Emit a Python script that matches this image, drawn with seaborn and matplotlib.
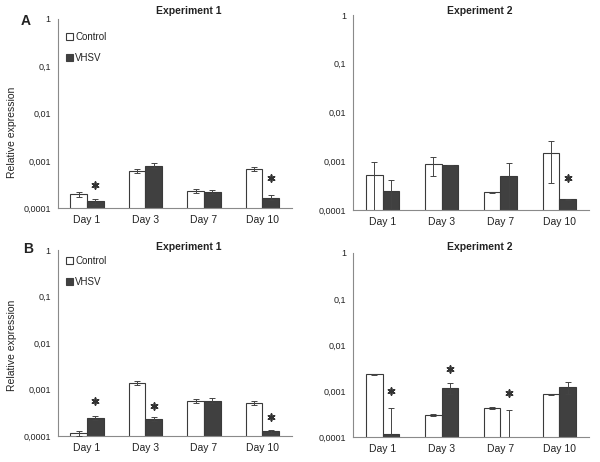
import numpy as np
import pandas as pd
import matplotlib
matplotlib.use("Agg")
import matplotlib.pyplot as plt
import seaborn as sns
from matplotlib.patches import Patch
from matplotlib.ticker import FixedLocator, NullFormatter

sns.set_style("white")
plt.rcParams['font.family'] = ['Liberation Sans', 'DejaVu Sans']

days = ["Day 1", "Day 3", "Day 7", "Day 10"]
groups = ["Control", "VHSV"]

# Panel A, Experiment 1
a1_control = [1.97e-4, 6.08e-4, 2.34e-4, 6.92e-4]
a1_control_err = [0.20e-4, 0.62e-4, 0.24e-4, 0.68e-4]
a1_vhsv = [1.40e-4, 8.0e-4, 2.2e-4, 1.67e-4]
a1_vhsv_err = [0.17e-4, 0.9e-4, 0.22e-4, 0.20e-4]
a1_stars = [(0, 3.1e-4), (3, 4.3e-4)]

# Panel A, Experiment 2
a2_control = [5.18e-4, 8.8e-4, 2.33e-4, 1.5e-3]
a2_control_err = [4.5e-4, 3.7e-4, 0.05e-4, 1.14e-3]
a2_vhsv = [2.48e-4, 8.2e-4, 4.94e-4, 1.65e-4]
a2_vhsv_err = [1.55e-4, 0.0, 4.2e-4, 0.03e-4]
a2_stars = [(3, 4.5e-4)]

# Panel B, Experiment 1
b1_control = [1.16e-4, 1.39e-3, 5.77e-4, 5.3e-4]
b1_control_err = [0.12e-4, 0.14e-3, 0.68e-4, 0.55e-4]
b1_vhsv = [2.52e-4, 2.32e-4, 5.85e-4, 1.28e-4]
b1_vhsv_err = [0.26e-4, 0.24e-4, 0.68e-4, 0.08e-4]
b1_stars = [(0, 5.85e-4), (1, 4.37e-4), (3, 2.56e-4)]

# Panel B, Experiment 2
b2_control = [2.33e-3, 3.03e-4, 4.3e-4, 8.5e-4]
b2_control_err = [0.07e-3, 0.1e-4, 0.15e-4, 0.3e-4]
b2_vhsv = [1.2e-4, 1.18e-3, 0.5e-4, 1.22e-3]
b2_vhsv_err = [3.2e-4, 0.33e-3, 3.33e-4, 0.34e-3]
b2_stars = [(0, 1.0e-3), (1, 2.99e-3), (2, 9.06e-4)]

yticks = [1e-4, 1e-3, 1e-2, 1e-1, 1]
ytick_labels = ["0,0001", "0,001", "0,01", "0,1", "1"]

W, H = 600, 462
fig = plt.figure(figsize=(6, 4.62), dpi=100)

def px_axes(x0, x1, ytop, ybot):
    return fig.add_axes([x0 / W, 1 - ybot / H, (x1 - x0) / W, (ybot - ytop) / H])

ctrl_edge = "#3a3a3a"
vhsv_fill = "#404040"
axis_col = "#8a8a8a"
text_col = "#222222"

def draw(ax, ctrl, ctrl_err, vh, vh_err, stars, title, title_xy, ylabel_y):
    df = pd.DataFrame({
        "day": days * 2,
        "group": [groups[0]] * 4 + [groups[1]] * 4,
        "value": list(ctrl) + list(vh),
    })
    sns.barplot(data=df, x="day", y="value", hue="group", order=days,
                hue_order=groups, palette={"Control": "white", "VHSV": vhsv_fill},
                width=0.57, errorbar=None, ax=ax, legend=False,
                edgecolor=ctrl_edge, linewidth=0.8, saturation=1)
    ax.set_yscale("log")
    ax.set_ylim(1e-4, 1)
    ax.set_xlim(-0.5, 3.5)
    bars = [p for p in ax.patches if p.get_width() > 0][:8]
    bars = sorted(bars, key=lambda p: p.get_x())
    centers_c, centers_v = [], []
    for i in range(4):
        pair = sorted(bars[2 * i:2 * i + 2], key=lambda p: p.get_x())
        centers_c.append(pair[0].get_x() + pair[0].get_width() / 2)
        centers_v.append(pair[1].get_x() + pair[1].get_width() / 2)
    ax.errorbar(centers_c, ctrl, yerr=ctrl_err, fmt="none", ecolor="#444444",
                elinewidth=0.7, capsize=2.2, capthick=0.7, zorder=5)
    ax.errorbar(centers_v, vh, yerr=vh_err, fmt="none", ecolor="#444444",
                elinewidth=0.7, capsize=2.2, capthick=0.7, zorder=5)
    for (i, y) in stars:
        ax.scatter([centers_v[i]], [y], marker=(6, 2, 0), s=24, linewidths=1.2,
                   color="#333333", zorder=6)
    for s in ["top", "right"]:
        ax.spines[s].set_visible(False)
    for s in ["left", "bottom"]:
        ax.spines[s].set_color(axis_col)
        ax.spines[s].set_linewidth(0.8)
    ax.yaxis.set_major_locator(FixedLocator(yticks))
    ax.set_yticklabels(ytick_labels)
    ax.yaxis.set_minor_locator(FixedLocator([]))
    ax.xaxis.set_major_locator(FixedLocator([-0.5, 0.5, 1.5, 2.5, 3.5]))
    ax.xaxis.set_major_formatter(NullFormatter())
    ax.xaxis.set_minor_locator(FixedLocator([0, 1, 2, 3]))
    ax.set_xticklabels(days, minor=True)
    ax.tick_params(axis="x", which="major", direction="out", length=3,
                   color=axis_col, width=0.8)
    ax.tick_params(axis="x", which="minor", length=0, labelsize=7.5,
                   labelcolor=text_col, pad=5)
    ax.tick_params(axis="y", which="major", direction="out", length=3,
                   color=axis_col, width=0.8, labelsize=6.5, labelcolor=text_col, pad=2)
    ax.set_xlabel("")
    if ylabel_y is not None:
        ax.set_ylabel("Relative expression", fontsize=7.5, color=text_col)
        ax.yaxis.set_label_coords(-41 / 234.0, ylabel_y)
    else:
        ax.set_ylabel("")
    fig.text(title_xy[0] / W, 1 - title_xy[1] / H, title, ha="center", va="center",
             fontsize=7.5, fontweight="bold", color=text_col)
    return ax

axA1 = px_axes(57.7, 291.7, 19, 208.3)
axA2 = px_axes(353.3, 588.7, 15, 210)
axB1 = px_axes(57.7, 291.7, 250, 436.3)
axB2 = px_axes(353.3, 588.7, 253, 437.3)

draw(axA1, a1_control, a1_control_err, a1_vhsv, a1_vhsv_err, a1_stars,
     "Experiment 1", (189, 11), 0.40)
draw(axA2, a2_control, a2_control_err, a2_vhsv, a2_vhsv_err, a2_stars,
     "Experiment 2", (480, 11), None)
draw(axB1, b1_control, b1_control_err, b1_vhsv, b1_vhsv_err, b1_stars,
     "Experiment 1", (189, 247), 0.49)
draw(axB2, b2_control, b2_control_err, b2_vhsv, b2_vhsv_err, b2_stars,
     "Experiment 2", (480, 247), None)

handles = [Patch(facecolor="white", edgecolor=ctrl_edge, linewidth=0.8, label="Control"),
           Patch(facecolor=vhsv_fill, edgecolor=vhsv_fill, linewidth=0.8, label="VHSV")]
for ax, top in [(axA1, 32), (axB1, 256)]:
    ax.legend(handles=handles, loc="upper left", bbox_to_anchor=(66 / W, 1 - top / H),
              bbox_transform=fig.transFigure, frameon=False, fontsize=7,
              handlelength=0.7, handleheight=0.7, handletextpad=0.25,
              labelspacing=1.1, borderpad=0, borderaxespad=0, labelcolor=text_col)

fig.text(26 / W, 1 - 21 / H, "A", ha="center", va="center", fontsize=10,
         fontweight="bold", color=text_col)
fig.text(28 / W, 1 - 249 / H, "B", ha="center", va="center", fontsize=10,
         fontweight="bold", color=text_col)

fig.savefig("out.png", dpi=100)
